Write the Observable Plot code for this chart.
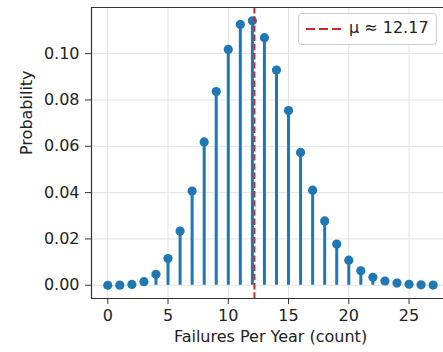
<!DOCTYPE html>
<html>
<head>
<meta charset="utf-8">
<script src="https://cdn.jsdelivr.net/npm/d3@7"></script>
<script src="https://cdn.jsdelivr.net/npm/@observablehq/plot@0.6"></script>
<style>
  html, body { margin: 0; padding: 0; background: #fff; overflow: hidden; }
  #wrap { position: relative; width: 443px; height: 352px; font-family: "DejaVu Sans", sans-serif; }
  #legend { position: absolute; left: 298px; top: 13px; width: 139px; height: 32px;
    border: 1px solid #cccccc; border-radius: 4px; background: rgba(255,255,255,0.85);
    box-sizing: border-box; }
  #legend svg { position: absolute; left: 6px; top: 13px; }
  #legend span { position: absolute; left: 50px; top: 4px; font-size: 16px; color: #222; white-space: nowrap; }
</style>
</head>
<body>
<div id="wrap"></div>
<script>
const counts = [0,1,2,3,4,5,6,7,8,9,10,11,12,13,14,15,16,17,18,19,20,21,22,23,24,25,26,27];
const probs = [0.0000052,0.000063,0.000384,0.00156,0.00474,0.01153,0.02339,0.04066,0.06186,0.08365,
  0.1018,0.1126,0.1142,0.1069,0.09294,0.07541,0.05736,0.04106,0.02776,0.01778,
  0.01082,0.00627,0.00347,0.00184,0.00093,0.00045,0.00021,0.0001];
const mu = 12.17;
const xTicks = [0,5,10,15,20,25];
const yTicks = [0,0.02,0.04,0.06,0.08,0.10];
const legendLabel = "μ ≈ 12.17";
const xLabel = "Failures Per Year (count)";
const yLabel = "Probability";

const data = counts.map((k, i) => ({k, p: probs[i]}));
const pmax = d3.max(probs);
const yDom = [-0.05 * pmax, pmax * 1.05];
const xDom = [-0.05 * 27, 27.86];

const blue = "#1f77b4";
const red = "#d62728";

const chart = Plot.plot({
  width: 443,
  height: 352,
  marginLeft: 91,
  marginRight: 0,
  marginTop: 7,
  marginBottom: 54,
  style: {fontFamily: "DejaVu Sans, sans-serif", fontSize: "16px", color: "#222", background: "#fff"},
  x: {domain: xDom, label: null},
  y: {domain: yDom, label: null},
  marks: [
    Plot.gridX(xTicks, {stroke: "#e3e3e3", strokeOpacity: 1, strokeWidth: 1}),
    Plot.gridY(yTicks, {stroke: "#e3e3e3", strokeOpacity: 1, strokeWidth: 1}),
    Plot.ruleX(data, {x: "k", y1: 0, y2: "p", stroke: blue, strokeWidth: 3}),
    Plot.dot(data, {x: "k", y: "p", r: 4.6, fill: blue, stroke: "none"}),
    Plot.ruleX([mu], {stroke: red, strokeWidth: 2, strokeDasharray: "6.4,2.8"}),
    Plot.ruleX([xDom[0]], {stroke: "#333", strokeWidth: 1.2}),
    Plot.ruleY([yDom[0]], {stroke: "#333", strokeWidth: 1.2}),
    Plot.ruleY([yDom[1]], {stroke: "#333", strokeWidth: 1.2}),
    Plot.axisX(xTicks, {tickSize: 6, tickPadding: 5, fontSize: 16, label: null, stroke: "#333"}),
    Plot.axisY(yTicks, {tickSize: 6, tickPadding: 6, fontSize: 16, label: null, tickFormat: d3.format(".2f"), stroke: "#333"}),
    Plot.text([yLabel], {frameAnchor: "left", rotate: -90, dx: -65, dy: 2, fontSize: 16, fill: "#222"}),
    Plot.text([xLabel], {frameAnchor: "bottom", dy: 43, dx: 3, fontSize: 16, fill: "#222"})
  ]
});

const wrap = document.getElementById("wrap");
wrap.appendChild(chart);
const leg = document.createElement("div");
leg.id = "legend";
leg.innerHTML = `<svg width="38" height="4"><line x1="1" y1="2" x2="36" y2="2" stroke="${red}" stroke-width="2.2" stroke-dasharray="9,4"/></svg><span></span>`;
leg.querySelector("span").textContent = legendLabel;
wrap.appendChild(leg);
</script>
</body>
</html>
